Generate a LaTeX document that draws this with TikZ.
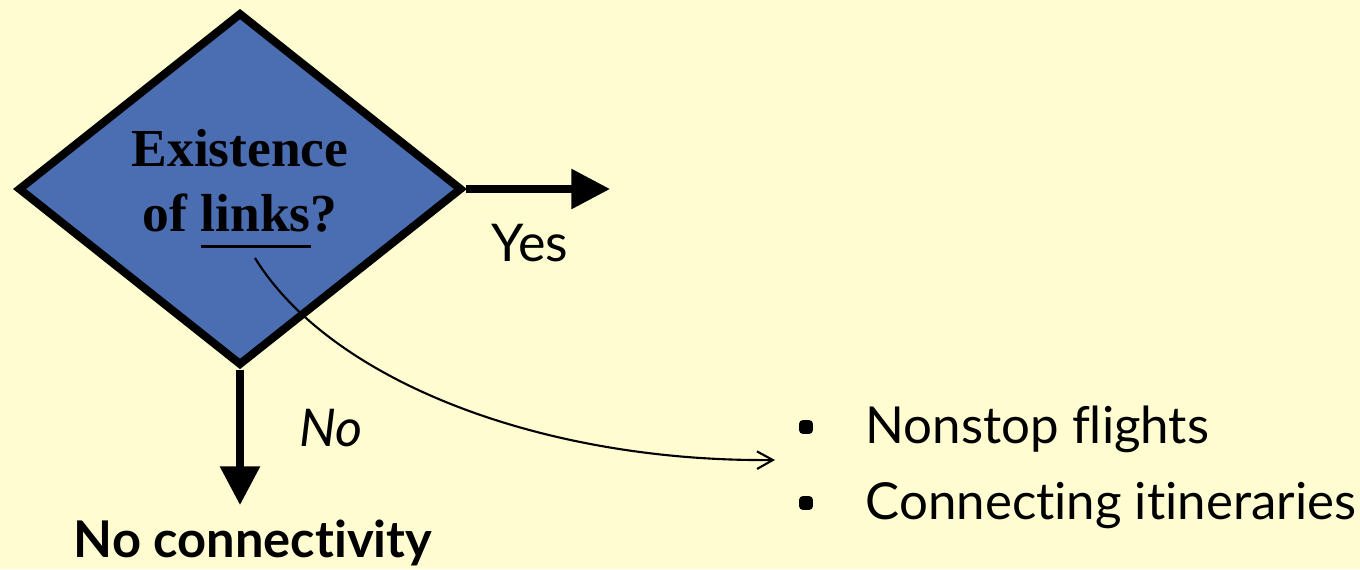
\documentclass[tikz,border=0pt]{standalone}
\usepackage{fontspec}
\usetikzlibrary{arrows.meta,shapes.geometric}
\setmainfont{Lato}[Ligatures=NoCommon]
\newfontfamily\headserif{Liberation Serif}
\definecolor{Cream}{HTML}{FFFCD2}
\definecolor{Slate}{HTML}{4B6DB1}
% thick rule under a word
\newcommand\linkline[1]{\setbox0\hbox{#1}\rlap{\raisebox{-4.6pt}{\rule{\wd0}{1pt}}}\box0}

\begin{document}
\begin{tikzpicture}[x=0.01cm,y=-0.01cm,
  flow/.style={-{Triangle[length=11pt,width=11pt]},line width=2pt},
  bul/.style={fill=black,rounded corners=1pt,minimum size=3.9pt,inner sep=0pt}]
\fill[Cream](0,0)rectangle(1360,569);
\useasboundingbox(0,0)rectangle(1360,569);
\node[diamond,draw,line width=2.3pt,fill=Slate,minimum width=4.44cm,minimum height=3.53cm,inner sep=0pt,align=center,font=\headserif\bfseries\fontsize{15.2}{18.5}\selectfont](q)at(240,189){Existence\\of \linkline{links}?};
\coordinate(ans)at(610,189);
\coordinate(none)at(240,505);
\draw[flow](q.east)--(ans);
\draw[flow](q.south)--(none);
\node[font=\fontsize{14.8}{17}\selectfont](yes)at(530,243){Yes};
\node[font=\fontsize{14.8}{17}\selectfont\itshape](no)at(331,428){No};
\node[font=\fontsize{14.4}{17}\selectfont\bfseries](nc)at(253,543){No connectivity};
\foreach \y/\t [count=\i] in {443/Nonstop flights,519/Connecting itineraries}{
\node[bul](b\i)at(806,\y-16){};
\node[anchor=base west,inner sep=0pt,font=\fontsize{14.5}{17}\selectfont](t\i)at(865,\y){\t};}
% from the underlined word to the list
\coordinate(lk)at(255,258);
\coordinate(tip)at(775,460);
\draw[-{Straight Barb[length=4.5pt,width=5pt]},line width=0.6pt](lk)..controls(330,380)and(540,462)..(tip);
\end{tikzpicture}
\end{document}
